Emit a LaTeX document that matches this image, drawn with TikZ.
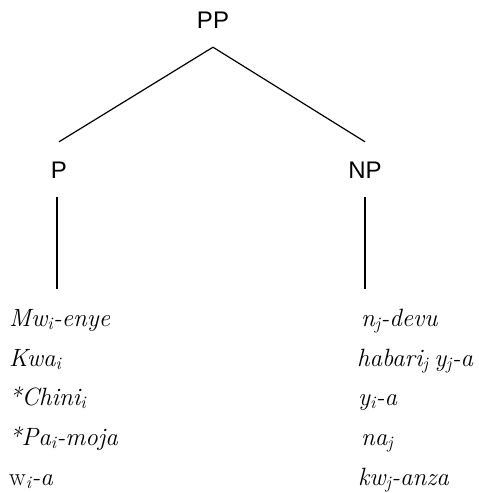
\documentclass[tikz,border=0pt]{standalone}
\usepackage{fontspec}
\newfontfamily\labelfont{Liberation Sans}
% italic subscript index
\newcommand{\ix}[1]{\textsubscript{\itshape #1}}
\tikzset{
  cat/.style={font=\labelfont\fontsize{24}{28}\selectfont, anchor=base,
    text height=17pt, text depth=0pt, inner xsep=0pt, inner ysep=19pt},
  item/.style={font=\fontsize{25}{29}\selectfont\itshape, anchor=base west, inner sep=0pt},
  branch/.style={line width=1.2pt}
}
\begin{document}
\begin{tikzpicture}[x=1pt,y=-1pt]
\useasboundingbox (0,0) rectangle (479,493);
% phrase categories
\node[cat] (pp) at (213,28) {PP};
\node[cat] (p)  at (59,178) {P};
\node[cat] (np) at (365,178) {NP};
\coordinate (pend)  at (57,289);
\coordinate (npend) at (365,289);
% branches
\draw[branch] (pp.south) -- (p.north);
\draw[branch] (pp.south) -- (np.north);
\draw[branch] (p.south -| pend) -- (pend);
\draw[branch] (np.south) -- (npend);
% left column
\node[item] (l1) at (9,326) {Mw\ix{i}-enye};
\node[item] (l2) at (9,366) {Kwa\ix{i}};
\node[item] (l3) at (9,405) {*Chini\ix{i}};
\node[item] (l4) at (9,445) {*Pa\ix{i}-moja};
\node[item] (l5) at (9,485) {\upshape w\ix{i}\itshape-a};
% right column
\node[item] (r1) at (361,326) {n\ix{j}-devu};
\node[item] (r2) at (357,366) {habari\ix{j}\hspace{6pt}y\ix{j}-a};
\node[item] (r3) at (358,405) {y\ix{i}-a};
\node[item] (r4) at (361,445) {na\ix{j}};
\node[item] (r5) at (358,485) {kw\ix{j}-anza};
\end{tikzpicture}
\end{document}
